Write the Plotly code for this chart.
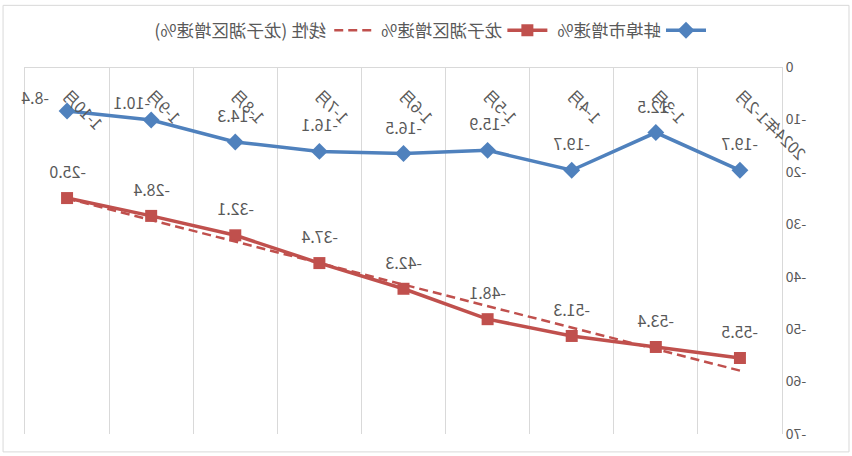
import numpy as np
import plotly.graph_objects as go

categories = ["2024年1-2月", "1-3月", "1-4月", "1-5月", "1-6月", "1-7月", "1-8月", "1-9月", "1-10月"]
bengbu = [-19.7, -12.5, -19.7, -15.9, -16.5, -16.1, -14.3, -10.1, -8.4]
longzihu = [-55.5, -53.4, -51.3, -48.1, -42.3, -37.4, -32.1, -28.4, -25.0]
y_ticks = [0, -10, -20, -30, -40, -50, -60, -70]
y_tick_labels = ["0", "-10", "-20", "-30", "-40", "-50", "-60", "-70"]

BLUE = "#4F81BD"
RED = "#C0504D"
TXT = "#595959"
FONT = "Noto Sans CJK SC"

# linear trend of 龙子湖区 (Excel-style linear trendline)
xi = np.arange(1, len(longzihu) + 1)
slope, intercept = np.polyfit(xi, longzihu, 1)
trend = slope * xi + intercept

fig = go.Figure()
fig.add_trace(go.Scatter(
    x=categories, y=bengbu, name="蚌埠市增速%", mode="lines+markers",
    line=dict(color=BLUE, width=3.5),
    marker=dict(symbol="diamond", size=13, color=BLUE),
))
fig.add_trace(go.Scatter(
    x=categories, y=longzihu, name="龙子湖区增速%", mode="lines+markers",
    line=dict(color=RED, width=3.5),
    marker=dict(symbol="square", size=12, color=RED),
))
fig.add_trace(go.Scatter(
    x=categories, y=trend, name="线性 (龙子湖区增速%)", mode="lines",
    line=dict(color=RED, width=2.5, dash="9px,5px"),
))

annotations = []
for i, (c, v) in enumerate(zip(categories, bengbu)):
    xs, ys = 0, 27
    if i == len(categories) - 1:
        xs, ys = 32, 14
    elif i == len(categories) - 2:
        xs, ys = 20, 18
    annotations.append(dict(x=c, y=v, xref="x", yref="y", text=f"{v:.1f}", showarrow=False,
                            xshift=xs, yshift=ys, xanchor="center", yanchor="middle",
                            font=dict(family=FONT, size=16, color=TXT)))
for c, v in zip(categories, longzihu):
    annotations.append(dict(x=c, y=v, xref="x", yref="y", text=f"{v:.1f}", showarrow=False,
                            xshift=0, yshift=27, xanchor="center", yanchor="middle",
                            font=dict(family=FONT, size=16, color=TXT)))

fig.update_layout(
    width=852, height=456,
    margin=dict(l=70, r=25, t=65, b=22),
    paper_bgcolor="white", plot_bgcolor="white",
    font=dict(family=FONT, size=14, color=TXT),
    showlegend=True,
    legend=dict(orientation="h", x=0.465, xanchor="center", y=1.10, yanchor="middle",
                font=dict(family=FONT, size=17.5, color=TXT), bgcolor="rgba(0,0,0,0)",
                itemwidth=40, tracegroupgap=0),
    annotations=annotations,
    xaxis=dict(
        type="category", anchor="free", position=1, side="bottom",
        tickangle=-45, tickson="boundaries", ticks="",
        showgrid=True, gridcolor="#D9D9D9", gridwidth=1,
        showline=True, linecolor="#D9D9D9", linewidth=1,
        tickfont=dict(family=FONT, size=16, color=TXT),
        ticklabelstandoff=12,
        range=[-0.5, len(categories) - 0.5],
    ),
    yaxis=dict(
        range=[-70, 0], tickvals=y_ticks, ticktext=y_tick_labels,
        showgrid=False, zeroline=False,
        showline=True, linecolor="#D9D9D9", linewidth=1, mirror=True,
        ticks="", tickfont=dict(family=FONT, size=14, color=TXT),
    ),
    shapes=[dict(type="rect", xref="paper", yref="paper",
                 x0=-0.0885, x1=1.029, y0=-0.0488, y1=1.168,
                 line=dict(color="#D9D9D9", width=1), fillcolor="rgba(0,0,0,0)", layer="below")],
)
for tr in fig.data:
    tr.cliponaxis = False

fig.write_html("out.html", config={"displayModeBar": False},
               post_script="document.body.style.margin='0'; var d=document.getElementById('{plot_id}'); d.style.transform='scaleX(-1)'; d.style.transformOrigin='426px 0';")
